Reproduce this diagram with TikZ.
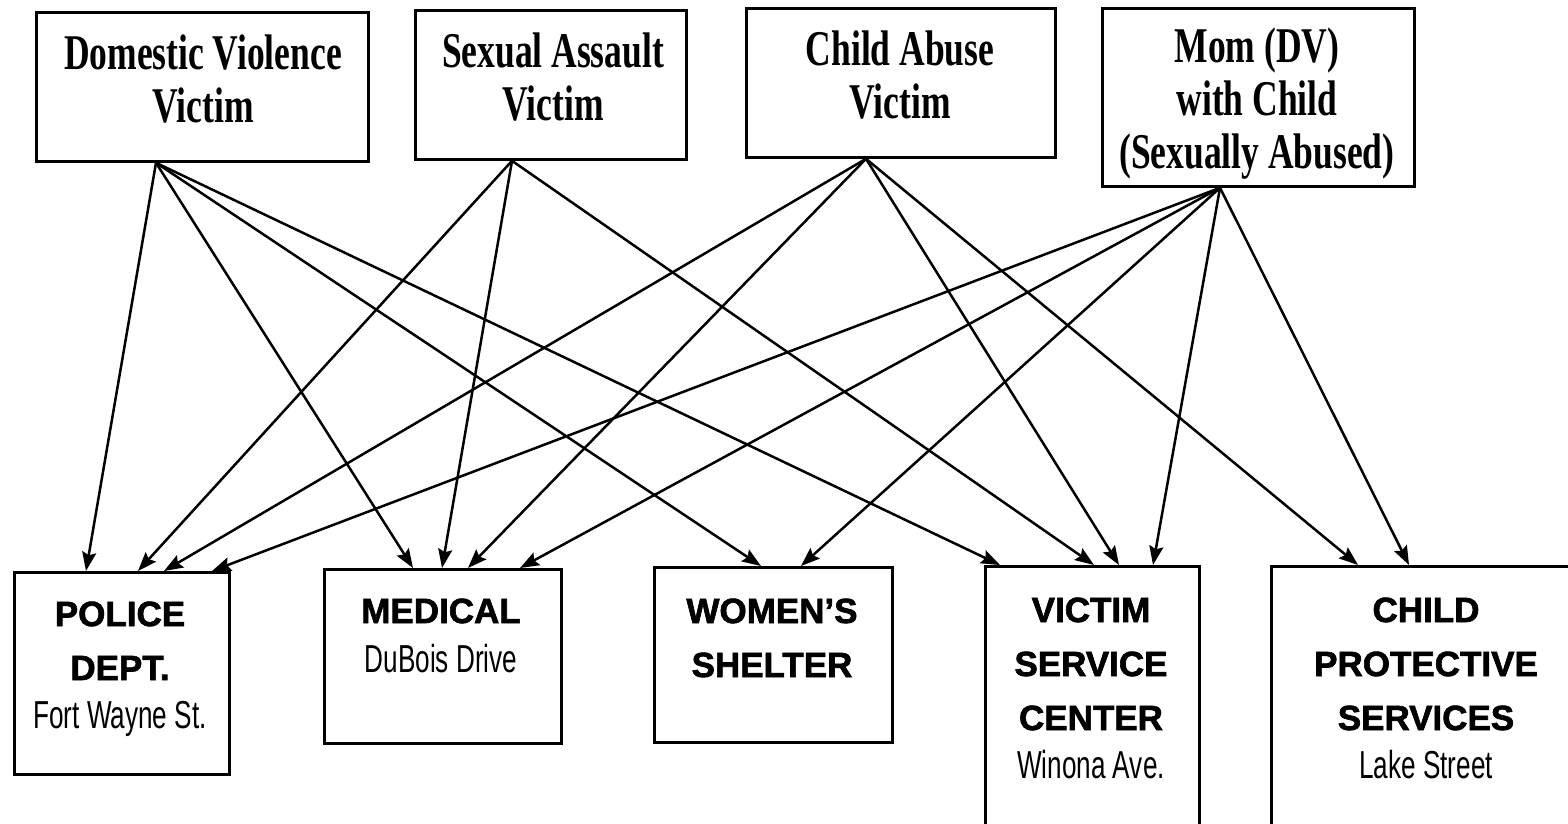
\documentclass[tikz,border=0pt]{standalone}
\usepackage{fontspec}
\setmainfont{Liberation Serif}
\newfontfamily\topfont[FakeStretch=0.71]{Liberation Serif}
\newfontfamily\botfont[FakeBold=1.8]{Liberation Sans}
\newfontfamily\streetfont[FakeStretch=0.67]{Liberation Sans}
\usetikzlibrary{arrows.meta}
\tikzset{
 box/.style={draw, line width=2.8pt, inner sep=0pt, anchor=north west},
 toptext/.style={font=\fontsize{50}{53}\topfont\bfseries, align=center, anchor=base, inner sep=0pt},
 bottext/.style={font=\fontsize{35}{54}\botfont\bfseries, align=center, anchor=base, inner sep=0pt},
 link/.style={line width=2.5pt, -{Stealth[length=19pt,width=14pt,inset=3pt]}},
}
\newcommand\streetline[1]{{\fontsize{39}{48}\streetfont\mdseries #1}}
\begin{document}
\begin{tikzpicture}[x=1pt,y=-1pt]
\useasboundingbox (0,0) rectangle (1568,823);
\clip (0,0) rectangle (1568,823);
% top boxes
\node[box, minimum width=332pt, minimum height=149pt] (dv) at (35,11) {};
\node[box, minimum width=271pt, minimum height=149pt] (sa) at (414,9) {};
\node[box, minimum width=309pt, minimum height=149pt] (ca) at (745,7) {};
\node[box, minimum width=312pt, minimum height=178pt] (mom) at (1101,7) {};
\node[toptext] (dvt) at (203,122) {Domestic Violence\\Victim};
\node[toptext] (sat) at (553,120) {Sexual Assault\\Victim};
\node[toptext] (cat) at (900,118) {Child Abuse\\Victim};
\node[toptext] (momt) at (1257,168) {Mom (DV)\\with Child\\(Sexually Abused)};
% bottom boxes
\node[box, minimum width=215pt, minimum height=202pt] (pol) at (13,571) {};
\node[box, minimum width=237pt, minimum height=174pt] (med) at (323,568) {};
\node[box, minimum width=238pt, minimum height=175pt] (wom) at (653,566) {};
\node[box, minimum width=214pt, minimum height=290pt] (vsc) at (984,565) {};
\node[box, minimum width=330pt, minimum height=290pt] (cps) at (1270,565) {};
\node[bottext] (polt) at (120,728) {POLICE\\DEPT.\\[-6pt]\streetline{Fort Wayne St.}};
\node[bottext] (medt) at (441,672) {MEDICAL\\[-5pt]\streetline{DuBois Drive}};
\node[bottext] (womt) at (772,677) {WOMEN’S\\SHELTER};
\node[bottext] (vsct) at (1091,778) {VICTIM\\SERVICE\\CENTER\\[-6pt]\streetline{Winona Ave.}};
\node[bottext] (cpst) at (1426,778) {CHILD\\PROTECTIVE\\SERVICES\\[-6pt]\streetline{Lake Street}};
% connectors: Domestic Violence
\draw[link] ([xshift=121pt]dv.south west) -- ([xshift=73pt]pol.north west);
\draw[link] ([xshift=121pt]dv.south west) -- ([xshift=90pt]med.north west);
\draw[link] ([xshift=121pt]dv.south west) -- ([xshift=108pt]wom.north west);
\draw[link] ([xshift=121pt]dv.south west) -- ([xshift=16pt]vsc.north west);
% Sexual Assault
\draw[link] ([xshift=98pt]sa.south west) -- ([xshift=125pt]pol.north west);
\draw[link] ([xshift=98pt]sa.south west) -- ([xshift=119pt]med.north west);
\draw[link] ([xshift=98pt]sa.south west) -- ([xshift=110pt]vsc.north west);
% Child Abuse
\draw[link] ([xshift=121pt]ca.south west) -- ([xshift=151pt]pol.north west);
\draw[link] ([xshift=121pt]ca.south west) -- ([xshift=145pt]med.north west);
\draw[link] ([xshift=121pt]ca.south west) -- ([xshift=135pt]vsc.north west);
\draw[link] ([xshift=121pt]ca.south west) -- ([xshift=88pt]cps.north west);
% Mom with child
\draw[link] ([xshift=119pt]mom.south west) -- ([xshift=199pt]pol.north west);
\draw[link] ([xshift=119pt]mom.south west) -- ([xshift=197pt]med.north west);
\draw[link] ([xshift=119pt]mom.south west) -- ([xshift=148pt]wom.north west);
\draw[link] ([xshift=119pt]mom.south west) -- ([xshift=169pt]vsc.north west);
\draw[link] ([xshift=119pt]mom.south west) -- ([xshift=139pt]cps.north west);
\end{tikzpicture}
\end{document}
